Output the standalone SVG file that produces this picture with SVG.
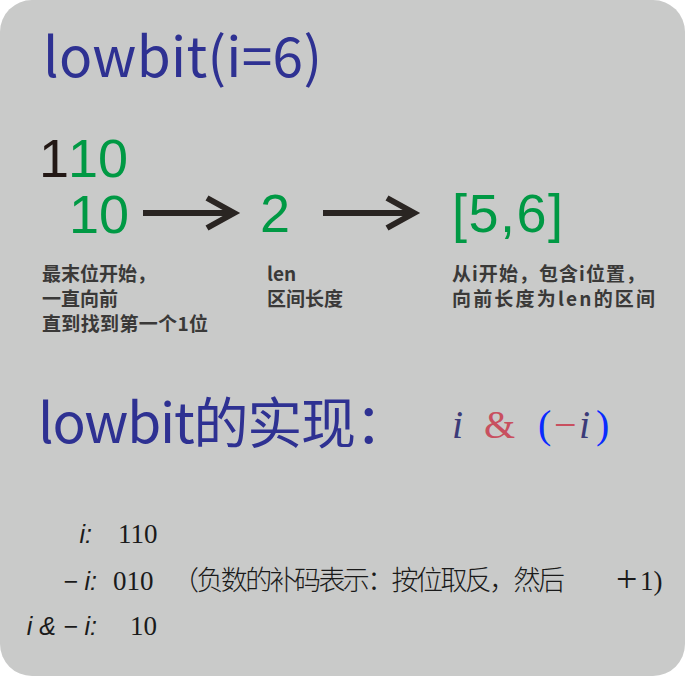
<svg xmlns="http://www.w3.org/2000/svg" width="693" height="678" viewBox="0 0 693 678">
<style>
.title{font-family:"Noto Sans CJK SC","Noto Sans",sans-serif;font-size:55px;fill:#2e3192}
.big{font-family:"Liberation Sans",Arial,sans-serif;font-size:54px}
.g{fill:#009944}
.k{fill:#231815}
.lbl{font-family:"Noto Sans CJK SC","Noto Sans",sans-serif;font-size:19px;font-weight:bold;fill:#3a3938}
.m{font-family:"Liberation Serif","Times New Roman",serif;font-size:40px}
.mi{font-style:italic;fill:#3b3b78}
.mr{fill:#c8505f}
.mb{fill:#0a2bff}
.sl{font-family:"Liberation Sans",Arial,sans-serif;font-style:italic;font-size:25px;fill:#1a1a1a}
.sd{font-family:"Liberation Serif","Times New Roman",serif;font-size:27px;fill:#1a1a1a}
.plus{font-family:"Liberation Serif","Times New Roman",serif;font-size:38px;fill:#1a1a1a}
.cj{font-family:"Noto Sans CJK SC",sans-serif;font-size:27px;font-weight:300;fill:#1a1a1a}
.arrow{fill:none;stroke:#2a2522;stroke-width:6}
</style>
<rect x="0" y="0" width="693" height="678" fill="#ffffff"/>
<rect id="panel" x="0" y="0" width="685" height="676" rx="32" ry="32" fill="#c9cac9"/>
<g id="title"><text class="title" x="43" y="77" textLength="279">lowbit(i=6)</text></g>
<g id="binary"><text class="big" x="39" y="177"><tspan class="k">1</tspan><tspan class="g" dx="3">10</tspan></text></g>
<g id="lowbit10"><text class="big g" x="69" y="233">10</text></g>
<g id="len2"><text class="big g" x="260" y="232">2</text></g>
<g id="range"><text class="big g" x="452" y="232" textLength="111">[5,6]</text></g>
<g id="connectors">
<path class="arrow" d="M143 213 H233 M207 198 L234 213 L207 228"/>
<path class="arrow" d="M323 213 H413 M387 198 L414 213 L387 228"/>
</g>
<g id="label1">
<text class="lbl" x="42" y="281">最末位开始，</text>
<text class="lbl" x="42" y="306">一直向前</text>
<text class="lbl" x="42" y="331" textLength="166">直到找到第一个1位</text>
</g>
<g id="label2">
<text class="lbl" x="267" y="281">len</text>
<text class="lbl" x="267" y="306" textLength="76">区间长度</text>
</g>
<g id="label3">
<text class="lbl" x="452" y="281" textLength="193">从i开始，包含i位置，</text>
<text class="lbl" x="452" y="306" textLength="203">向前长度为len的区间</text>
</g>
<g id="impl"><text class="title" x="38" y="443" letter-spacing="-1.2">lowbit的实现：</text></g>
<g id="formula">
<text class="m mi" x="452" y="438">i</text>
<text class="m mr" x="484" y="438">&amp;</text>
<text class="m mb" x="538" y="438">(</text>
<text class="m mr" x="554" y="438">−</text>
<text class="m mi" x="579" y="438">i</text>
<text class="m mb" x="596" y="438">)</text>
</g>
<g id="row1">
<text class="sl" x="92" y="543" text-anchor="end">i:</text>
<text class="sd" x="118" y="543">110</text>
</g>
<g id="row2">
<text class="sl" x="97" y="590" text-anchor="end">− i:</text>
<text class="sd" x="113" y="590">010</text>
<text class="cj" x="172" y="590" textLength="393">（负数的补码表示：按位取反，然后</text>
<text class="plus" x="616" y="592">+</text>
<text class="sd" x="640" y="590">1)</text>
</g>
<g id="row3">
<text class="sl" x="97" y="635" text-anchor="end">i &amp; − i:</text>
<text class="sd" x="130" y="635">10</text>
</g>
</svg>
